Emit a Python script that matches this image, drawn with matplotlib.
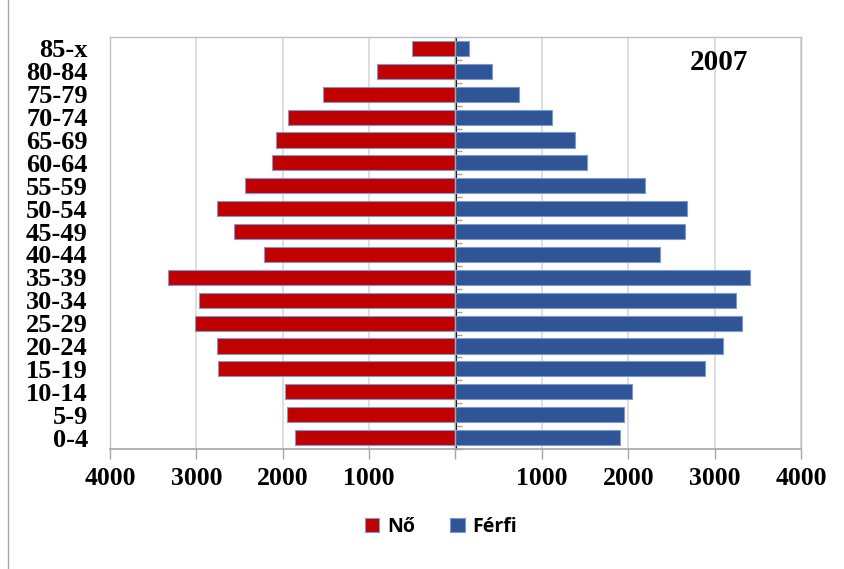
import matplotlib
matplotlib.use("Agg")
import matplotlib.pyplot as plt
from matplotlib.lines import Line2D
import numpy as np

ages = ["0-4", "5-9", "10-14", "15-19", "20-24", "25-29", "30-34", "35-39", "40-44",
        "45-49", "50-54", "55-59", "60-64", "65-69", "70-74", "75-79", "80-84", "85-x"]
female = [1859, 1948, 1975, 2752, 2767, 3018, 2972, 3328, 2214,
          2559, 2767, 2439, 2126, 2083, 1944, 1530, 904, 507]
male = [1909, 1952, 2044, 2890, 3096, 3320, 3246, 3409, 2369,
        2655, 2682, 2191, 1523, 1388, 1121, 734, 421, 155]
xticks = [-4000, -3000, -2000, -1000, 0, 1000, 2000, 3000, 4000]
xticklabels = ["4000", "3000", "2000", "1000", "", "1000", "2000", "3000", "4000"]
year = "2007"
series_names = ["Nő", "Férfi"]

RED = "#C00000"
BLUE = "#2F5597"
EDGE = "#7A9AD0"

fig = plt.figure(figsize=(8.45, 5.69), dpi=100)
ax = fig.add_axes([110/845, 1-449/569, 691/845, 412/569])

y = np.arange(len(ages))
ax.barh(y, [-v for v in female], height=0.66, color=RED, edgecolor=EDGE, linewidth=0.8,
        label=series_names[0], zorder=3)
ax.barh(y, male, height=0.66, color=BLUE, edgecolor=EDGE, linewidth=0.8,
        label=series_names[1], zorder=3)

ax.set_xlim(-4000, 4000)
ax.set_ylim(-0.5, len(ages) - 0.5)
ax.set_xticks(xticks)
ax.set_xticklabels(xticklabels, fontfamily="Liberation Serif", fontweight="bold", fontsize=18.5)
ax.set_yticks(y)
ax.set_yticklabels(ages, fontfamily="Liberation Serif", fontweight="bold", fontsize=19)
ax.tick_params(axis="y", length=0, pad=16)
ax.tick_params(axis="x", length=7, color="#a6a6a6", width=1, pad=6, direction="out")
ax.grid(axis="x", color="#d9d9d9", linewidth=1.2, zorder=0)
for s in ["top", "right", "left"]:
    ax.spines[s].set_color("#bfbfbf")
    ax.spines[s].set_linewidth(1)
ax.spines["bottom"].set_color("#a6a6a6")
ax.spines["bottom"].set_linewidth(1.2)

# centre axis with small ticks between categories
ax.axvline(0, color="#a6a6a6", linewidth=1, zorder=4)
sec = ax.secondary_yaxis(0.5)
sec.set_yticks(np.arange(-0.5, len(ages) - 0.5 + 0.01, 1))
sec.set_yticklabels([])
sec.tick_params(length=4, color="#a6a6a6", width=1, direction="out")
sec.spines["left"].set_visible(False)

ax.text((719-110)/691, (449-62)/412, year, transform=ax.transAxes, ha="center", va="center",
        fontfamily="Liberation Serif", fontweight="bold", fontsize=21)

leg = fig.legend(loc="center", bbox_to_anchor=(441/845, 1-527/569), ncol=2, frameon=False,
                 prop={"family": "Open Sans", "size": 14, "weight": "bold"},
                 handlelength=0.75, handleheight=0.75, handletextpad=0.4, columnspacing=1.8)
for p in leg.get_patches():
    p.set_edgecolor(EDGE)

fig.add_artist(Line2D([8/845, 8/845], [0, 1], transform=fig.transFigure, color="#a6a6a6", linewidth=1))

fig.savefig("out.png", dpi=100)
